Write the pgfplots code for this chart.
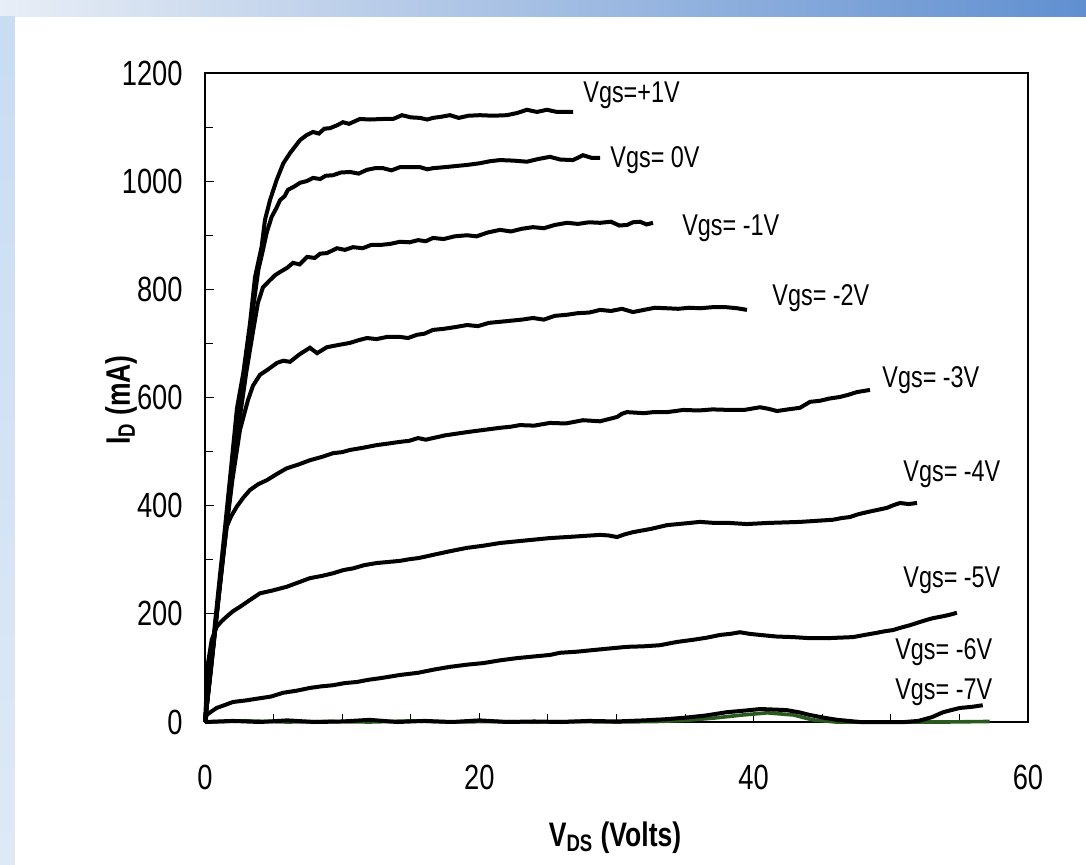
\documentclass[border=0pt]{standalone}
\usepackage{fontspec}
\setmainfont{Liberation Sans}[FakeStretch=0.78]
\usepackage{pgfplots}
\pgfplotsset{compat=1.18}
\usetikzlibrary{backgrounds}
\definecolor{dkgreen}{RGB}{40,90,30}
\definecolor{bgA}{RGB}{232,238,246}
\definecolor{bgB}{RGB}{96,143,208}
\definecolor{bgC}{RGB}{200,220,242}
\definecolor{bgD}{RGB}{222,233,246}
\begin{document}
\begin{tikzpicture}
\begin{axis}[
  scale only axis, width=411.5pt, height=324.5pt,
  xmin=0, xmax=60, ymin=0, ymax=1200,
  xtick={0,20,40,60}, minor xtick={5,10,15,25,30,35,45,50,55},
  ytick={0,200,...,1200}, minor ytick={100,300,...,1100},
  tick pos=left, tick align=inside,
  major tick length=4.5pt, minor tick length=4pt,
  axis line style={line width=0.7pt},
  every tick/.style={black, line width=0.5pt},
  clip=false,
  /pgf/number format/assume math mode=true,
  /pgf/number format/1000 sep={},
  tick label style={font=\fontsize{17.5}{20}\selectfont, inner sep=0pt},
  yticklabel style={anchor=east, xshift=-11pt},
  xticklabel style={anchor=north, yshift=-21.5pt},
]
\coordinate (O) at (axis cs:0,0);
\addplot[dkgreen, line width=1.8pt] coordinates {(0,0)(3,2)(6,0)(9,1)(12,0)(15,2)(18,0)(21,1)(24,0)(27,1)(30,0)(33,1)(35,3)(37,7)(39.2,13)(41,17)(42.9,13)(44.3,4)(46,0)(50,0)(54,0)(57.2,1)};
\addplot[black, line width=2pt] coordinates {(0,0)(2,2)(4,0)(6,3)(8,0)(10,1)(12,4)(14,0)(16,2)(18,0)(20,3)(22,0)(24,1)(26,0)(28,2)(30,1)(32,3)(33.5,5)(35,8)(36.5,12)(38,18)(39.3,21)(40.5,24)(41.5,23)(42.4,22)(43.3,18)(44.1,13)(45.1,8)(46.1,4)(47.75,0)(49.5,0)(51,0)(52,2)(53,9)(53.8,18)(54.4,22)(55.04,26)(55.9,28)(56.7,31)};
\addplot[black, line width=2pt] coordinates {(0,0)(0.12,13)(0.5,20)(0.85,26)(1.4,31)(2.04,37)(3,40)(4.01,44)(4.8,47)(5.69,54)(6.7,58)(7.65,63)(8.5,66)(9.33,68)(10.2,72)(11.08,74)(11.9,78)(12.76,81)(13.5,84)(14.22,87)(15.53,91)(16.7,97)(17.86,102)(19.1,106)(20.3,109)(21.5,114)(22.7,118)(23.9,121)(25.15,124)(25.88,128)(27.1,130)(28.29,133)(29.5,136)(30.77,139)(32,140)(33.17,142)(34.4,148)(35.58,152)(36.6,156)(37.55,161)(38.3,163)(39.0,166)(39.7,163)(40.46,161)(41.7,158)(42.87,157)(44.1,155)(45.35,155)(46.3,156)(47.24,157)(48.1,161)(48.99,165)(49.6,168)(50.16,170)(50.67,174)(51.4,179)(52,184)(52.64,189)(53.07,192)(53.9,196)(54.4,199)(54.82,202)};
\addplot[black, line width=2pt] coordinates {(0,0)(0.22,109)(0.49,152)(0.85,176)(1.2,186)(1.58,195)(2.05,205)(2.55,213)(3.3,226)(4.01,238)(4.9,243)(5.95,250)(6.8,258)(7.65,266)(8.5,270)(9.33,275)(10.1,281)(10.79,284)(11.6,290)(12.54,294)(13.4,296)(14.22,298)(14.9,301)(15.53,303)(16.1,306)(16.62,309)(17.9,316)(19.1,322)(20.3,326)(21.51,331)(22.7,334)(23.91,337)(25.1,340)(26.39,342)(27.6,344)(28.8,346)(29.4,345)(30.04,342)(30.6,347)(31.2,351)(32.5,357)(33.68,364)(34.9,367)(36.09,370)(37.2,368)(38.27,368)(39.5,366)(40.97,368)(42.2,369)(43.38,370)(44.6,372)(45.78,374)(46.4,377)(47.02,379)(47.6,384)(48.26,388)(49,392)(49.72,396)(50.2,401)(50.67,405)(51.3,403)(51.91,405)};
\addplot[black, line width=2pt] coordinates {(0,0)(0.5,115)(1.0,230)(1.3,300)(1.58,361)(1.9,380)(2.31,398)(2.8,415)(3.28,429)(3.9,440)(4.5,447)(5.2,458)(5.95,469)(6.8,476)(7.65,484)(8.5,490)(9.33,497)(10,499)(10.57,503)(11.5,507)(12.52,512)(13.4,515)(14.22,518)(14.9,520)(15.53,525)(16.1,522)(16.62,525)(17.5,530)(18.3,533)(19.1,536)(20.3,540)(21.51,544)(22.3,546)(22.96,549)(24,548)(25.15,553)(26.3,552)(27.56,558)(28.8,556)(30.04,564)(30.4,570)(30.76,573)(32,571)(32.7,573)(33.68,573)(34.3,575)(34.85,577)(36,576)(37,578)(38.27,577)(39.3,577)(40.46,582)(41.1,579)(41.7,575)(42.5,578)(43.38,581)(44.11,592)(44.84,594)(45.5,598)(46.29,601)(46.9,605)(47.53,610)(48,612)(48.48,614)};
\addplot[black, line width=2pt] coordinates {(0,0)(0.5,117)(1,234)(1.5,345)(2,448)(2.55,540)(3.13,595)(3.5,622)(4.01,642)(4.6,652)(5.25,664)(5.7,668)(6.2,666)(6.9,680)(7.65,692)(8.17,682)(8.89,693)(9.7,697)(10.57,701)(11.2,706)(11.81,710)(12.5,708)(13.27,712)(14.22,712)(14.8,710)(15.46,716)(16,718)(16.62,725)(17.4,727)(18.2,730)(19.1,734)(19.9,732)(20.7,738)(21.51,740)(22.3,742)(23.1,744)(23.91,747)(24.7,744)(25.5,751)(26.39,753)(27.2,756)(28,757)(28.8,762)(29.6,760)(30.4,764)(31.2,758)(32,762)(32.8,766)(33.68,765)(34.5,764)(35.3,766)(36.09,765)(37,767)(38,767)(38.8,765)(39.51,762)};
\addplot[black, line width=2pt] coordinates {(0,0)(0.5,118)(1,238)(1.5,352)(2,458)(2.5,556)(3,645)(3.5,722)(3.86,775)(4.23,804)(4.74,817)(5.1,826)(5.47,832)(6,840)(6.42,849)(6.9,846)(7.44,860)(8,858)(8.4,866)(8.89,867)(9.62,876)(10.2,873)(10.79,878)(11.5,876)(12.1,882)(12.76,882)(13.5,884)(14.22,888)(14.9,887)(15.53,891)(16.1,889)(16.62,895)(17.4,893)(18.2,898)(19.1,900)(19.8,898)(20.6,905)(21.51,910)(22.3,907)(23.1,912)(23.91,915)(24.7,913)(25.5,919)(26.39,923)(27.2,921)(28,924)(28.8,923)(29.6,925)(30.2,918)(30.76,919)(31.2,924)(31.71,925)(32.2,920)(32.66,923)};
\addplot[black, line width=2pt] coordinates {(0,0)(0.45,100)(0.95,222)(1.45,340)(1.95,455)(2.43,558)(3.04,675)(3.52,768)(3.89,836)(4.2,870)(4.5,905)(4.86,934)(5.2,950)(5.47,965)(5.8,972)(6.05,984)(6.5,990)(6.93,997)(7.4,1000)(7.87,1006)(8.4,1004)(8.8,1010)(9.33,1011)(9.9,1016)(10.57,1017)(11.2,1014)(11.81,1021)(12.4,1024)(12.98,1024)(13.6,1020)(14.22,1026)(15,1026)(15.67,1026)(16.2,1022)(16.62,1024)(17.5,1026)(18.3,1028)(19.1,1030)(20,1033)(20.8,1037)(21.51,1039)(22.5,1038)(23.47,1036)(24.3,1041)(25.15,1045)(25.9,1040)(26.83,1039)(27.56,1048)(28.2,1043)(28.8,1043)};
\addplot[black, line width=2pt] coordinates {(0,0)(0.4,100)(0.9,225)(1.4,345)(1.9,470)(2.33,580)(2.79,645)(3.28,737)(3.65,823)(4.13,879)(4.37,928)(4.74,965)(5.22,1002)(5.71,1033)(6.2,1052)(6.93,1076)(7.4,1085)(7.87,1091)(8.3,1088)(8.7,1097)(9.11,1098)(9.6,1103)(10.06,1109)(10.5,1106)(11.3,1115)(12,1114)(13,1115)(13.71,1115)(14.36,1122)(15,1118)(15.67,1117)(16.2,1114)(16.62,1117)(17.2,1119)(17.86,1122)(18.5,1117)(19.2,1121)(20.05,1122)(21,1121)(22,1122)(22.75,1126)(23.47,1132)(24.2,1128)(24.93,1132)(25.66,1128)(26.3,1128)(26.83,1128)};
\begin{scope}[every node/.style={anchor=base west, inner sep=0pt, font=\fontsize{15}{18}\selectfont}]
\node at (axis cs:27.56,1145) {Vgs=+1V};
\node at (axis cs:29.53,1026) {Vgs= 0V};
\node at (axis cs:34.77,900) {Vgs= -1V};
\node at (axis cs:41.34,771) {Vgs= -2V};
\node at (axis cs:49.36,618) {Vgs= -3V};
\node at (axis cs:50.89,444) {Vgs= -4V};
\node at (axis cs:50.89,248) {Vgs= -5V};
\node at (axis cs:50.30,115) {Vgs= -6V};
\node at (axis cs:50.30,41) {Vgs= -7V};
\end{scope}
\end{axis}
\begin{scope}[shift={(O)}, x=1pt, y=1pt]
\begin{scope}[on background layer]
\fill[white] (-102.5,-71) rectangle (440.5,361);
\shade[left color=bgA, right color=bgB] (-102.5,352.5) rectangle (440.5,361);
\shade[top color=bgC, bottom color=bgD] (-102.5,-71) rectangle (-95,352.5);
\end{scope}
\node[font=\fontsize{17}{20}\selectfont\bfseries] at (205,-58) {V\textsubscript{DS} (Volts)};
\node[font=\fontsize{17}{20}\selectfont\bfseries, rotate=90] at (-42,161) {I\textsubscript{D} (mA)};
\end{scope}
\end{tikzpicture}
\end{document}
